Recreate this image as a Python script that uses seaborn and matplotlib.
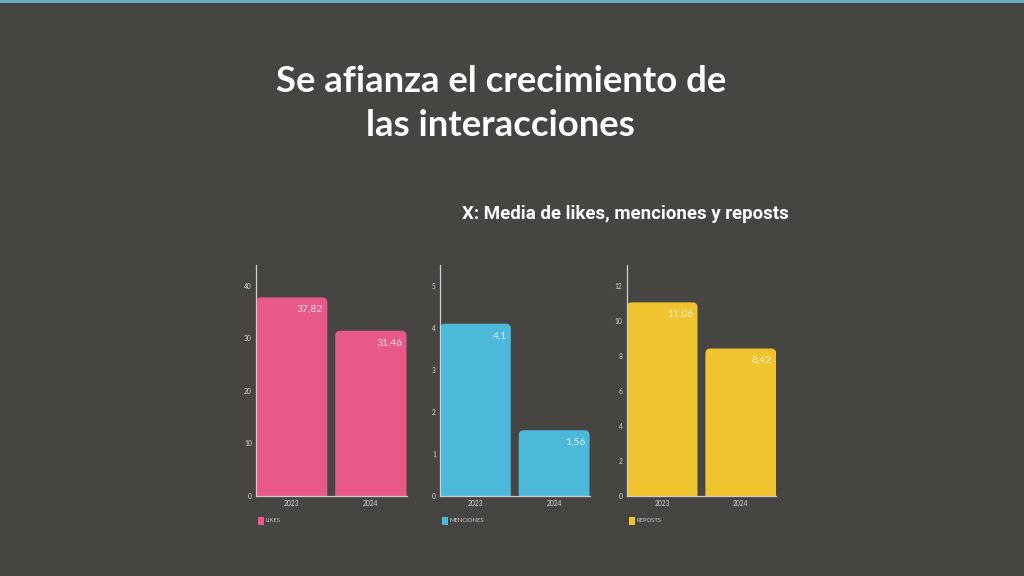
import matplotlib
matplotlib.use("Agg")
import matplotlib.pyplot as plt
from matplotlib.patches import FancyBboxPatch, Rectangle
import seaborn as sns
import pandas as pd

# data
years = ["2023", "2024"]
likes = [37.82, 31.46]
menciones = [4.1, 1.56]
reposts = [11.06, 8.42]

value_labels = {
    "LIKES": ["37,82", "31,46"],
    "MENCIONES": ["4,1", "1,56"],
    "REPOSTS": ["11,06", "8,42"],
}

bg = "#464542"
sns.set_theme(style="dark")
plt.rcParams["font.family"] = ["Lato", "DejaVu Sans"]

fig = plt.figure(figsize=(10.24, 5.76), dpi=100)
fig.patch.set_facecolor(bg)

# thin cyan strip on the very top (screen capture edge)
fig.add_artist(Rectangle((0, 0.995), 1, 0.005, transform=fig.transFigure,
                         color="#6aa9c0", lw=0))

fig.text(0.489, 0.820, "Se afianza el crecimiento de\nlas interacciones",
         ha="center", va="center", color="white", fontsize=26.3,
         fontweight="bold", linespacing=1.42)
fig.text(0.611, 0.628, "X: Media de likes, menciones y reposts",
         ha="center", va="center", color="white", fontsize=13.4,
         fontweight="bold", family=["Roboto", "DejaVu Sans"])

panels = [
    ("LIKES", likes, "#e8598a", [0, 10, 20, 30, 40], 44.0, 0.250, 0.397),
    ("MENCIONES", menciones, "#4cb9db", [0, 1, 2, 3, 4, 5], 5.5, 0.4297, 0.5757),
    ("REPOSTS", reposts, "#f0c42e", [0, 2, 4, 6, 8, 10, 12], 13.2, 0.612, 0.758),
]

bottom, top = 0.1394, 0.54
for name, vals, color, ticks, ymax, left, right in panels:
    ax = fig.add_axes([left, bottom, right - left, top - bottom])
    ax.set_facecolor(bg)
    df = pd.DataFrame({"year": years, "value": vals})
    sns.barplot(data=df, x="year", y="value", color=color, width=0.9,
                saturation=1, ax=ax)
    ax.set_xlim(-0.45, 1.45)
    ax.set_ylim(0, ymax)
    ax.set_yticks(ticks)
    ax.set_xlabel("")
    ax.set_ylabel("")
    ax.grid(False)
    ax.tick_params(axis="both", colors="#d8d8d8", labelsize=4.8, length=0, pad=3)
    for s in ["top", "right"]:
        ax.spines[s].set_visible(False)
    for s in ["left", "bottom"]:
        ax.spines[s].set_visible(True)
        ax.spines[s].set_color("#cfcfcf")
        ax.spines[s].set_linewidth(0.9)
        ax.spines[s].set_zorder(5)

    # rounded tops on the bars (bottom corners hidden below the axis)
    w_px = (right - left) * 1024
    h_px = (top - bottom) * 576
    xu = 1.9 / w_px
    yu = ymax / h_px
    r = 5 * xu
    for p in list(ax.patches):
        x, y = p.get_x(), p.get_y()
        w, h = p.get_width(), p.get_height()
        p.set_visible(False)
        ax.add_patch(FancyBboxPatch((x, y - 10 * yu), w, h + 10 * yu,
                                    boxstyle=f"round,pad=0,rounding_size={r}",
                                    mutation_aspect=yu / xu,
                                    fc=color, ec="none"))

    for i, v in enumerate(vals):
        ax.text(i + 0.45 - 4 * xu, v - 12 * yu, value_labels[name][i],
                ha="right", va="center", color="#f4f4f4", alpha=0.85,
                fontsize=7.5)

    # small legend under each panel
    ax.add_patch(Rectangle((0.015, -0.125), 0.04, 0.034, transform=ax.transAxes,
                           fc=color, ec="none", clip_on=False))
    ax.text(0.065, -0.108, name, transform=ax.transAxes, ha="left",
            va="center", color="#cfcfcf", fontsize=4.2)

fig.savefig("out.png", dpi=100, facecolor=bg)
